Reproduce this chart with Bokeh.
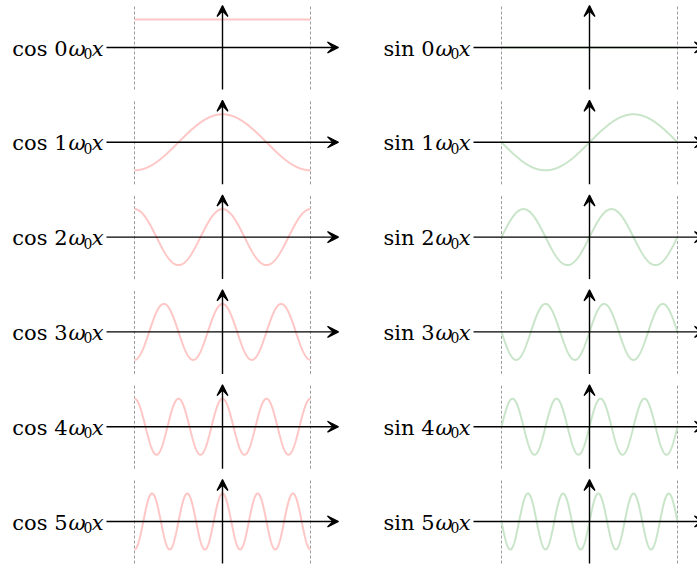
import numpy as np
from bokeh.plotting import figure
from bokeh.models import Arrow, VeeHead, Range1d
from bokeh.embed import file_html
from bokeh.resources import INLINE
from bokeh.core.properties import value

# ---- data ----
harmonics = [0, 1, 2, 3, 4, 5]
functions = ["cos", "sin"]
curve_colors = {"cos": "#ffc6c6", "sin": "#c9e5c9"}
half_period = np.pi          # dashed markers at x = ±π (ω0 = 1)
axis_x_extent = np.pi + 1    # horizontal axis half length
axis_y_extent = 1.5          # vertical axis half length

# ---- layout (in data units) ----
PX = 88 / np.pi                      # pixels per unit
W, H = 697, 568
col_offsets = [0.0, (589 - 222) / PX]
row_step = 94.8 / PX
x_start = (0 - 222) / PX
x_end = x_start + W / PX
y_end = (47 - 0) / PX
y_start = y_end - H / PX

p = figure(width=W, height=H, x_range=Range1d(x_start, x_end),
           y_range=Range1d(y_start, y_end), output_backend="svg",
           toolbar_location=None, min_border=0,
           x_axis_type=None, y_axis_type=None)
p.grid.visible = False
p.outline_line_color = None
p.background_fill_color = "white"

xs = np.linspace(-half_period, half_period, 600)
funcs = {"cos": np.cos, "sin": np.sin}

FONT = value("DejaVu Serif")
for ci, fname in enumerate(functions):
    ox = col_offsets[ci]
    for ri, n in enumerate(harmonics):
        oy = -ri * row_step
        # dashed period markers
        p.segment(x0=[ox - half_period, ox + half_period],
                  y0=[oy - axis_y_extent] * 2,
                  x1=[ox - half_period, ox + half_period],
                  y1=[oy + axis_y_extent] * 2,
                  line_color="#9c9c9c", line_width=1, line_dash="3 2")
        # curve
        p.line(xs + ox, funcs[fname](n * xs) + oy,
               line_color=curve_colors[fname], line_width=2)
        # axes with arrows
        p.add_layout(Arrow(x_start=ox - axis_x_extent, y_start=oy,
                           x_end=ox + axis_x_extent, y_end=oy,
                           line_width=1.4, line_color="black",
                           end=VeeHead(size=11, fill_color="black",
                                       line_color="black", line_width=1.2)))
        p.add_layout(Arrow(x_start=ox, y_start=oy - axis_y_extent,
                           x_end=ox, y_end=oy + axis_y_extent,
                           line_width=1.4, line_color="black",
                           end=VeeHead(size=11, fill_color="black",
                                       line_color="black", line_width=1.2)))
        # label pieces: "cos n" ω _0 x
        p.text(x=[ox], y=[oy], text=[f"{fname} {n}"], text_align="right",
               text_baseline="alphabetic", x_offset=-155, y_offset=1,
               text_font=FONT, text_font_size="21px", text_color="black")
        p.text(x=[ox], y=[oy], text=["ω"], text_align="right",
               text_baseline="alphabetic", x_offset=-137, y_offset=1,
               text_font=FONT, text_font_size="21px", text_font_style="italic",
               text_color="black")
        p.text(x=[ox], y=[oy], text=["0"], text_align="right",
               text_baseline="alphabetic", x_offset=-130, y_offset=6,
               text_font=FONT, text_font_size="14px", text_color="black")
        p.text(x=[ox], y=[oy], text=["x"], text_align="right",
               text_baseline="alphabetic", x_offset=-119, y_offset=1,
               text_font=FONT, text_font_size="21px", text_font_style="italic",
               text_color="black")

open("out.html", "w").write(file_html(p, INLINE))
